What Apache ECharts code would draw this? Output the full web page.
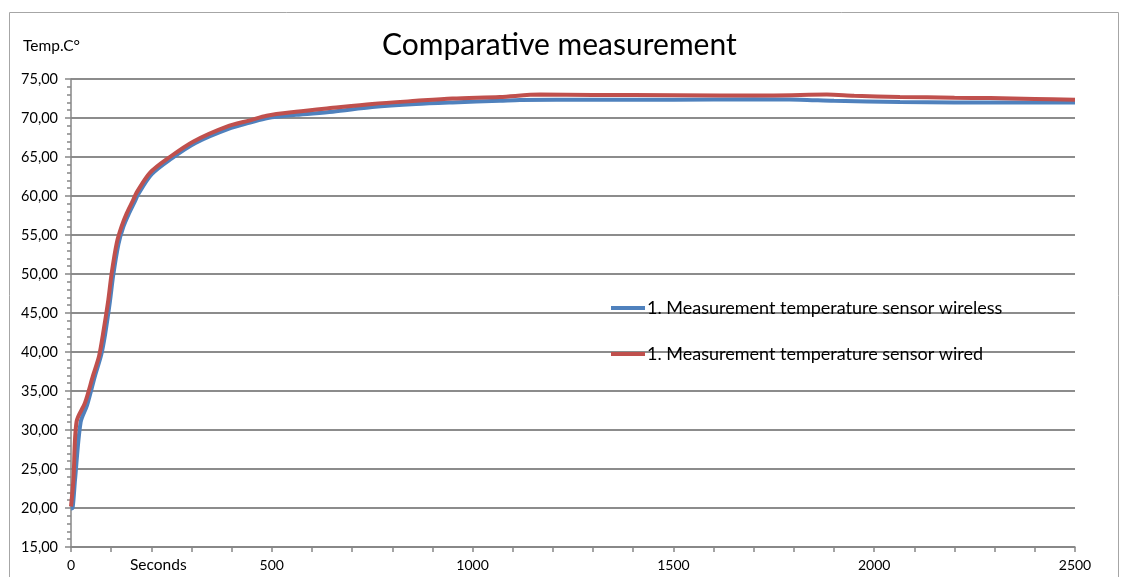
<!DOCTYPE html>
<html>
<head>
<meta charset="utf-8">
<script src="https://cdn.jsdelivr.net/npm/echarts@6/dist/echarts.min.js"></script>
<style>
html,body{margin:0;padding:0;background:#fff;}
#c{width:1126px;height:577px;}
</style>
</head>
<body>
<div id="c"></div>
<script>
// Data (seconds, temperature °C)
const wirelessT = [0,4,10,24,40,60,75,85,97,105,118,130,143,159,167,201,250,310,392,446,490,560,652,750,859,950,1068,1118,1300,1500,1700,1815,1900,2064,2200,2400,2500];
const wirelessV = [19.9,20.0,23.6,31.0,33.2,37.0,39.6,42.3,46.5,49.8,53.8,56.0,57.6,59.3,60.2,62.8,64.8,66.8,68.6,69.4,70.0,70.4,70.8,71.4,71.8,72.0,72.2,72.3,72.35,72.35,72.4,72.35,72.2,72.05,72.0,72.0,72.0];
const wiredT = [0,6,14,35,55,70,80,93,101,114,126,139,155,163,197,246,305,388,446,487,560,652,750,859,950,1068,1168,1300,1400,1616,1750,1882,1950,2064,2200,2289,2400,2500];
const wiredV = [20.2,23.6,31.1,33.5,37.0,39.5,42.4,46.7,50.0,54.0,56.1,57.8,59.5,60.4,63.0,65.0,67.0,68.9,69.7,70.3,70.8,71.3,71.8,72.2,72.5,72.7,73.0,72.95,72.95,72.9,72.9,73.0,72.85,72.7,72.6,72.55,72.45,72.35];
const seriesNames = ['1. Measurement temperature sensor wireless','1. Measurement temperature sensor wired'];
const titleText = 'Comparative measurement';
const yAxisTitle = 'Temp.C°';
const xAxisTitle = 'Seconds';

const FONT = 'Lato';
const zip = (a,b) => a.map((t,i)=>[t,b[i]]);
const chart = echarts.init(document.getElementById('c'));
chart.setOption({
  animation:false,
  backgroundColor:'#fff',
  textStyle:{fontFamily:FONT},
  title:{text:titleText,left:377,top:25,textStyle:{fontFamily:FONT,fontSize:30,fontWeight:'normal',color:'#000'}},
  graphic:[
    {type:'rect',shape:{x:9.5,y:12.5,width:1109,height:580},style:{fill:'none',stroke:'#a6a6a6',lineWidth:1},silent:true,z:-1},
    {type:'text',left:23,top:38,style:{text:yAxisTitle,font:'15.5px '+FONT,fill:'#000'}},
    {type:'text',left:130,top:557,style:{text:xAxisTitle,font:'15.5px '+FONT,fill:'#000'}}
  ],
  legend:{
    data:seriesNames,orient:'vertical',left:606,top:294,itemWidth:34,itemHeight:4,itemGap:28,icon:'rect',
    textStyle:{fontFamily:FONT,fontSize:18,color:'#000',padding:[0,0,0,-3]}
  },
  grid:{left:71,right:51,top:79,bottom:30,containLabel:false},
  xAxis:{type:'value',min:0,max:2500,interval:100,
    axisLine:{lineStyle:{color:'#868686',width:1.5}},
    axisTick:{length:5,lineStyle:{color:'#868686',width:1.5}},
    axisLabel:{color:'#000',fontSize:14,fontFamily:FONT,margin:11,showMaxLabel:true,
      formatter:v=> (v%500===0? String(v):'')},
    splitLine:{show:false}},
  yAxis:{type:'value',min:15,max:75,interval:5,
    axisLine:{show:true,lineStyle:{color:'#868686',width:1.5}},
    axisTick:{show:true,length:6,lineStyle:{color:'#868686',width:1.5}},
    minorTick:{show:true,splitNumber:5,length:4,lineStyle:{color:'#868686',width:1.5}},
    axisLabel:{color:'#000',fontSize:14.5,fontFamily:FONT,margin:13,
      formatter:v=>v.toFixed(2).replace('.',',')},
    splitLine:{lineStyle:{color:'#8c8c8c',width:2}}},
  series:[
    {name:seriesNames[0],type:'line',data:zip(wirelessT,wirelessV),showSymbol:false,smooth:0.3,
      lineStyle:{color:'#4f81bd',width:4},itemStyle:{color:'#4f81bd'}},
    {name:seriesNames[1],type:'line',data:zip(wiredT,wiredV),showSymbol:false,smooth:0.3,
      lineStyle:{color:'#c0504d',width:4},itemStyle:{color:'#c0504d'}}
  ]
});
</script>
</body>
</html>
